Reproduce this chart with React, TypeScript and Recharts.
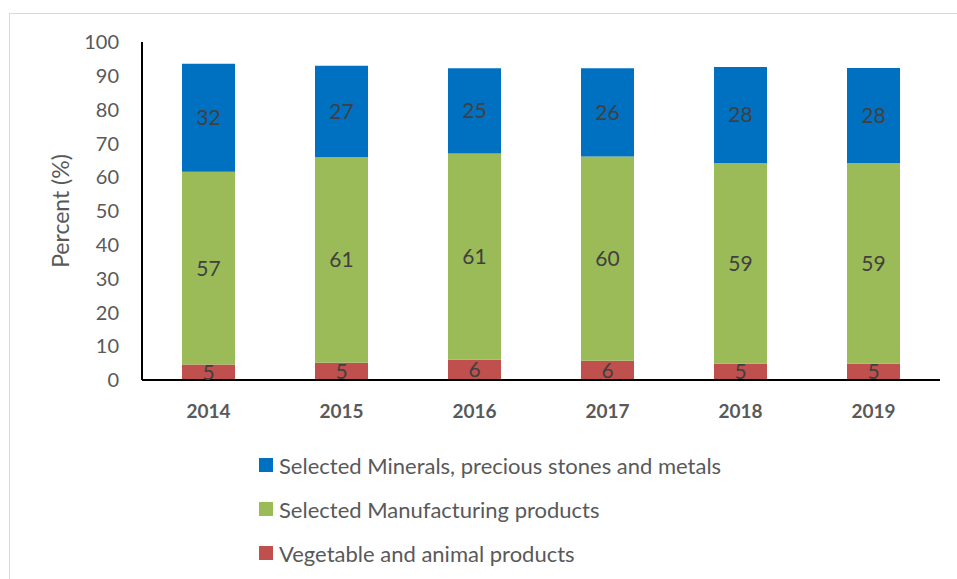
import React from 'react';
import { BarChart, Bar, XAxis, YAxis, LabelList } from 'recharts';

const years = ['2014', '2015', '2016', '2017', '2018', '2019'];
const vegetable = [4.6, 5.1, 6.0, 5.7, 4.8, 4.8];
const manufacturing = [57.0, 60.8, 61.0, 60.4, 59.4, 59.4];
const minerals = [32.0, 27.1, 25.2, 26.1, 28.4, 28.1];
const yTicks = [0, 10, 20, 30, 40, 50, 60, 70, 80, 90, 100];

const seriesNames = {
  veg: 'Vegetable and animal products',
  man: 'Selected Manufacturing products',
  min: 'Selected Minerals, precious stones and metals',
};
const seriesColors = {
  veg: '#C0504D',
  man: '#9BBB59',
  min: '#0070C0',
};
const legendOrder: Array<'min' | 'man' | 'veg'> = ['min', 'man', 'veg'];

const data = years.map((y, i) => ({
  year: y,
  veg: vegetable[i],
  man: manufacturing[i],
  min: minerals[i],
}));

const FONT = 'Lato, "Open Sans", sans-serif';

const fmt = (v: any) => Math.round(Number(v)).toString();

export default function App() {
  return (
    <div style={{ position: 'fixed', left: 0, top: 0, width: 957, height: 579, overflow: 'hidden', background: '#fff' }}>
      <div style={{ position: 'absolute', left: 9, top: 13, width: 1000, height: 700, border: '1px solid #d9d9d9' }} />
      <div style={{ position: 'absolute', left: 0, top: 0 }}>
        <BarChart width={957} height={579} data={data} margin={{ top: 42, right: 17, bottom: 169, left: 0 }} barSize={53}>
          <XAxis
            dataKey="year"
            axisLine={{ stroke: '#000', strokeWidth: 2 }}
            tickLine={false}
            tickSize={0}
            tickMargin={25}
            height={30}
            tick={{ fill: '#595959', fontSize: 19, fontWeight: 700, fontFamily: FONT }}
          />
          <YAxis
            domain={[0, 100]}
            ticks={yTicks}
            interval={0}
            width={142}
            axisLine={{ stroke: '#000', strokeWidth: 2 }}
            tickLine={false}
            tickSize={0}
            tickMargin={23}
            tick={{ fill: '#595959', fontSize: 20, fontFamily: FONT }}
            label={{ value: 'Percent (%)', angle: -90, position: 'insideLeft', offset: 61, style: { fill: '#595959', fontSize: 23, fontFamily: FONT, textAnchor: 'middle' } }}
          />
          <Bar dataKey="veg" name={seriesNames.veg} stackId="a" fill={seriesColors.veg} isAnimationActive={false}>
            <LabelList dataKey="veg" position="center" formatter={fmt} style={{ fill: '#404040', fontSize: 21, fontFamily: FONT }} />
          </Bar>
          <Bar dataKey="man" name={seriesNames.man} stackId="a" fill={seriesColors.man} isAnimationActive={false}>
            <LabelList dataKey="man" position="center" formatter={fmt} style={{ fill: '#404040', fontSize: 21, fontFamily: FONT }} />
          </Bar>
          <Bar dataKey="min" name={seriesNames.min} stackId="a" fill={seriesColors.min} isAnimationActive={false}>
            <LabelList dataKey="min" position="center" formatter={fmt} style={{ fill: '#404040', fontSize: 21, fontFamily: FONT }} />
          </Bar>
        </BarChart>
      </div>
      <div style={{ position: 'absolute', left: 259, top: 443, fontFamily: FONT }}>
        {legendOrder.map((k) => (
          <div key={k} style={{ display: 'flex', alignItems: 'center', height: 44 }}>
            <div style={{ width: 14, height: 14, background: seriesColors[k], marginRight: 6 }} />
            <span style={{ fontSize: 22, color: '#595959' }}>{seriesNames[k]}</span>
          </div>
        ))}
      </div>
    </div>
  );
}
